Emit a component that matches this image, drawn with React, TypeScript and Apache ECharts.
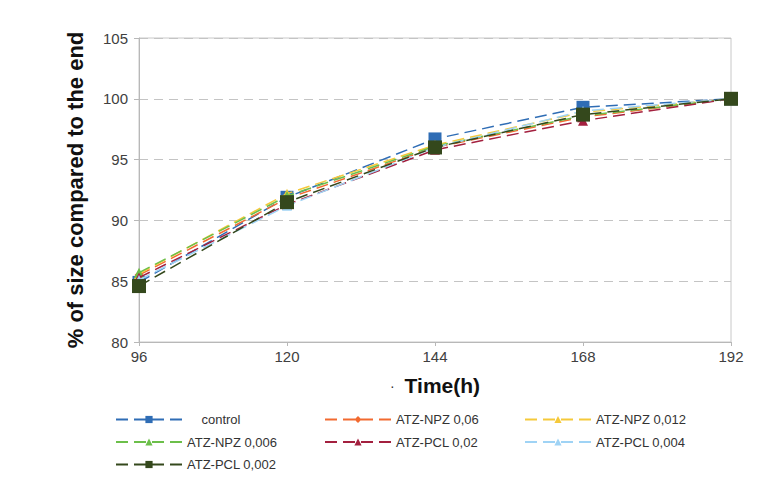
import React, { useEffect, useRef } from "react";
import * as echarts from "echarts";

const hours = [96, 120, 144, 168, 192];
const yTicks = [80, 85, 90, 95, 100, 105];

const control = [84.9, 91.9, 96.7, 99.3, 100];
const npz006 = [85.5, 91.8, 96.0, 98.5, 100];
const npz0012 = [85.6, 92.2, 96.2, 98.9, 100];
const npz0006 = [85.7, 92.0, 96.1, 98.6, 100];
const pcl002 = [85.3, 91.3, 95.8, 98.2, 100];
const pcl0004 = [85.1, 91.2, 96.0, 99.0, 100];
const pcl0002 = [84.6, 91.5, 96.0, 98.7, 100];

const seriesNames = [
  "control",
  "ATZ-NPZ 0,06",
  "ATZ-NPZ 0,012",
  "ATZ-NPZ 0,006",
  "ATZ-PCL 0,02",
  "ATZ-PCL 0,004",
  "ATZ-PCL 0,002",
];
const seriesValues = [control, npz006, npz0012, npz0006, pcl002, pcl0004, pcl0002];
const seriesColors = ["#2f6db5", "#f26a30", "#f5c93a", "#6cbf4a", "#a3203f", "#9fd3f5", "#34481c"];
const seriesSymbols = ["rect", "diamond", "triangle", "triangle", "triangle", "triangle", "rect"];
const seriesSymbolSizes = [13, 9, 10, 10, 10, 10, 14];

const FONT = "'Liberation Sans', Arial, sans-serif";

export default function App() {
  const ref = useRef<HTMLDivElement>(null);
  useEffect(() => {
    if (!ref.current) return;
    const chart = echarts.init(ref.current, null, { renderer: "svg" });
    const legendCommon = {
      orient: "vertical",
      itemWidth: 66,
      itemHeight: 9,
      itemGap: 9.5,
      top: 413,
      padding: 0,
      height: 80,
      textStyle: { fontFamily: FONT, fontSize: 13, color: "#333" },
      selectedMode: false,
      formatter: (name: string) => (name === "control" ? "    control" : name),
    };
    chart.setOption({
      animation: false,
      backgroundColor: "#ffffff",
      textStyle: { fontFamily: FONT },
      grid: {
        left: 139,
        right: 26,
        top: 38,
        bottom: 142,
        show: true,
        borderColor: "#c8c8c8",
        borderWidth: 1,
      },
      legend: [
        { ...legendCommon, left: 115, data: [seriesNames[0], seriesNames[3], seriesNames[6]] },
        { ...legendCommon, left: 324, data: [seriesNames[1], seriesNames[4]] },
        { ...legendCommon, left: 524, data: [seriesNames[2], seriesNames[5]] },
      ],
      xAxis: {
        type: "value",
        min: hours[0],
        max: hours[hours.length - 1],
        interval: 24,
        name: "{d|·}   {t|Time(h)}",
        nameLocation: "middle",
        nameGap: 33,
        nameTextStyle: {
          rich: {
            d: { fontSize: 14, color: "#333", fontFamily: FONT },
            t: { fontSize: 21, fontWeight: "bold", color: "#111", fontFamily: FONT },
          },
        },
        axisLine: { lineStyle: { color: "#b8b8b8" } },
        axisTick: { show: true, length: 4, lineStyle: { color: "#b8b8b8" } },
        axisLabel: { fontSize: 15, color: "#404040", margin: 7, fontFamily: FONT },
        splitLine: { show: false },
      },
      yAxis: {
        type: "value",
        min: yTicks[0],
        max: yTicks[yTicks.length - 1],
        interval: 5,
        name: "% of size compared to the end",
        nameLocation: "middle",
        nameGap: 53,
        nameTextStyle: { fontSize: 22, fontWeight: "bold", color: "#111", fontFamily: FONT },
        axisLine: { show: true, lineStyle: { color: "#b8b8b8" } },
        axisTick: { show: true, length: 5, lineStyle: { color: "#b8b8b8" } },
        axisLabel: { fontSize: 15, color: "#404040", margin: 11, fontFamily: FONT },
        splitLine: { show: true, lineStyle: { color: "#c4c4c4", type: [9, 6], width: 1 } },
      },
      series: seriesNames.map((name, i) => ({
        name,
        type: "line",
        data: hours.map((h, j) => [h, seriesValues[i][j]]),
        symbol: seriesSymbols[i],
        symbolSize: seriesSymbolSizes[i],
        showSymbol: true,
        color: seriesColors[i],
        lineStyle: { color: seriesColors[i], width: 1.5, type: [12, 6] },
        itemStyle: { color: seriesColors[i] },
        z: 2 + i,
      })),
    });
    return () => chart.dispose();
  }, []);
  return <div ref={ref} style={{ width: 757, height: 484, marginLeft: -8, marginTop: -8 }} />;
}
